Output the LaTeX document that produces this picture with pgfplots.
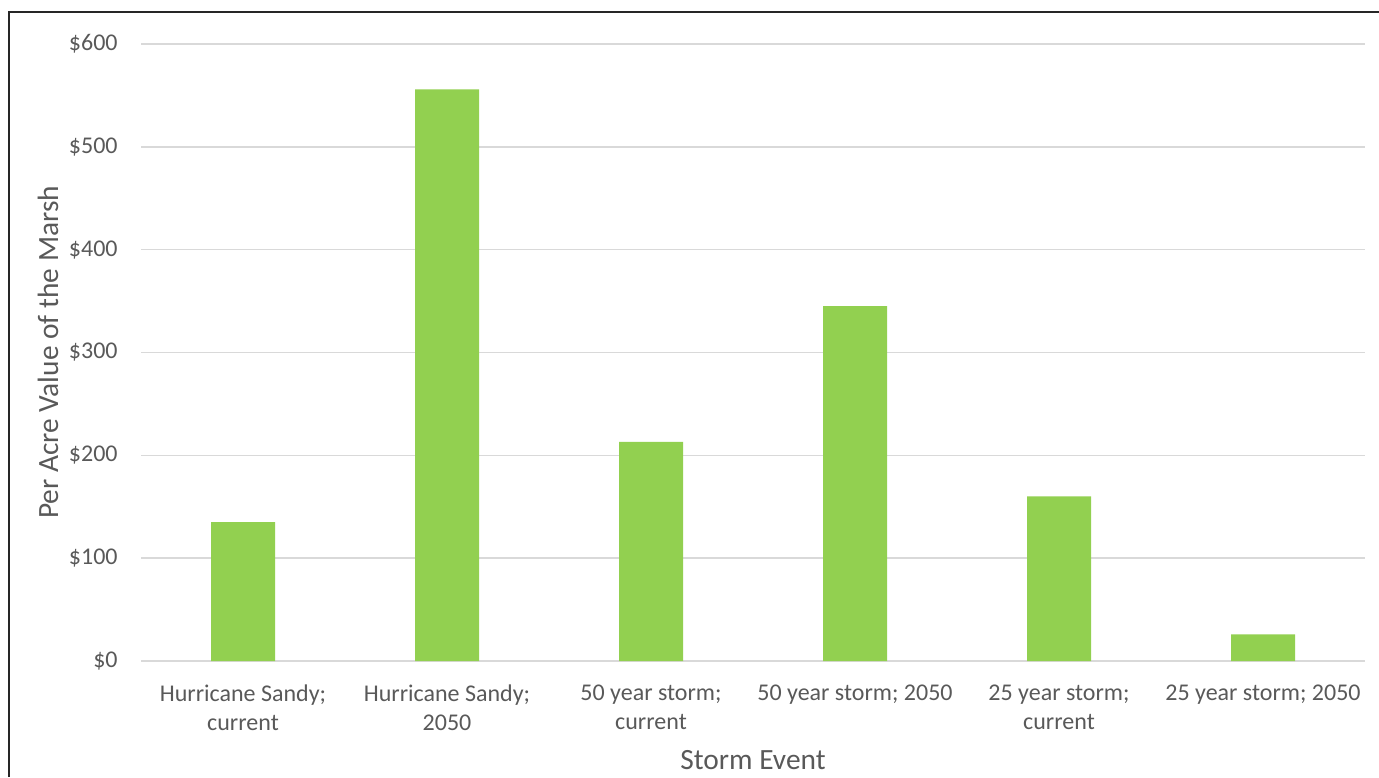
\documentclass[border=0pt]{standalone}
\usepackage{pgfplots}
\pgfplotsset{compat=1.18}
\usepackage{fontspec}
\setmainfont{Carlito}
\definecolor{bargreen}{HTML}{92D050}
\definecolor{txt}{HTML}{595959}
\definecolor{gridc}{HTML}{D9D9D9}
\begin{document}
\begin{tikzpicture}
\useasboundingbox (0,0) rectangle (689.5pt,-388.5pt);
\draw[line width=0.9pt, black!85] (4.5pt,-388.5pt) -- (4.5pt,-6pt) -- (689.5pt,-6pt);
\begin{axis}[
  at={(70.5pt,-330.5pt)}, anchor=south west,
  scale only axis, width=612pt, height=308.5pt,
  ymin=0, ymax=600, xmin=-0.5, xmax=5.5,
  ybar, bar width=32pt,
  xtick=data,
  xticklabels={{Hurricane Sandy;\\current},{Hurricane Sandy;\\2050},{50 year storm;\\current},{50 year storm; 2050},{25 year storm;\\current},{25 year storm; 2050}},
  ytick={0,100,...,600},
  yticklabel={\$\pgfmathprintnumber{\tick}},
  /pgf/number format/assume math mode=true,
  ymajorgrids, grid style={gridc, line width=0.8pt},
  axis line style={draw=none},
  major tick length=0pt,
  tick label style={font=\fontsize{12pt}{14.5pt}\selectfont, text=txt},
  xticklabel style={align=center, anchor=north, inner sep=0pt, yshift=-11.8pt},
  yticklabel style={anchor=east, inner sep=0pt, xshift=-11.5pt},
  xlabel={Storm Event}, ylabel={Per Acre Value of the Marsh},
  label style={font=\fontsize{14.7pt}{17pt}\selectfont, text=txt},
  xlabel style={at={(axis description cs:0.5,-0.1605)}, anchor=center},
  ylabel style={at={(axis description cs:-0.076,0.5)}, anchor=center},
]
\addplot[fill=bargreen, draw=none] coordinates {(0,135) (1,556) (2,213) (3,345) (4,160) (5,26)};
\end{axis}
\end{tikzpicture}
\end{document}
